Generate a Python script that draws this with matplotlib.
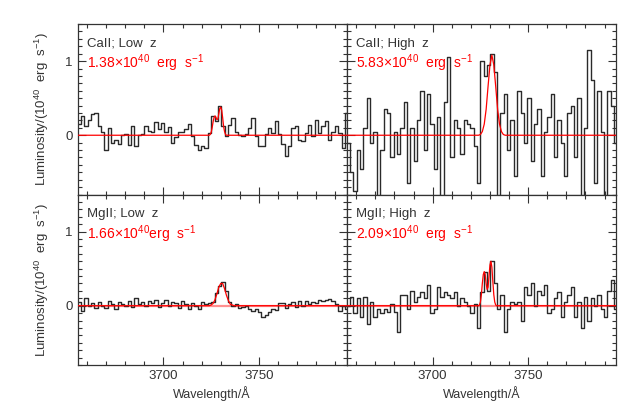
import numpy as np
import matplotlib
matplotlib.use("Agg")
import matplotlib.pyplot as plt
from matplotlib.ticker import MultipleLocator

plt.rcParams['font.family'] = ['Liberation Sans', 'DejaVu Sans']
plt.rcParams['mathtext.fontset'] = 'custom'
plt.rcParams['mathtext.rm'] = 'Liberation Sans'
plt.rcParams['mathtext.it'] = 'Liberation Sans:italic'

# binned spectra, 1.75 A bins starting at 3655 A
wl_start = 3655.0
bin_width = 1.75

caii_low = [0.15, 0.26, 0.12, 0.2, 0.28, 0.3, 0.13, 0.05, -0.2, 0.1,
            -0.1, -0.06, -0.12, 0.0, 0.01, -0.13, 0.12, -0.15, 0.0, 0.02,
            0.13, 0.06, 0.05, 0.18, 0.08, 0.17, 0.04, 0.11, -0.1, -0.02,
            0.04, 0.04, 0.08, 0.15, -0.01, -0.13, -0.2, -0.15, -0.17, 0.03,
            0.26, 0.19, 0.39, 0.12, -0.01, 0.14, 0.23, 0.05, 0.0, -0.01,
            0.01, 0.1, 0.23, -0.01, -0.15, -0.14, 0.01, 0.1, 0.03, 0.19,
            0.01, -0.12, -0.28, -0.15, 0.1, 0.13, -0.06, -0.08, 0.03, 0.14,
            -0.01, 0.21, 0.03, 0.12, 0.19, -0.06, 0.05, 0.13, 0.03, -0.17,
            0.3]

caii_high = [-0.1, -0.5, -0.75, -0.2, -0.45, 0.1, 0.5, -0.1, 0.05, -0.85,
             -0.2, 0.35, 0.3, -0.3, 0.05, -0.25, 0.1, 0.45, -0.65, 0.1,
             -0.35, 0.2, 0.6, -0.2, 0.55, 0.15, -0.45, 0.25, -0.85, 0.45,
             1.05, -0.3, 0.2, 0.1, -0.25, 0.2, 0.15, 0.1, -0.15, -0.65,
             1.0, 0.8, 0.95, 1.1, 0.85, -0.85, 0.3, 0.55, -0.2, 0.2,
             -0.55, 0.6, 0.3, -0.1, 0.5, -0.35, 0.15, 0.35, -0.55, 0.05,
             0.25, 0.55, -0.3, 0.2, -0.1, -0.55, 0.3, 0.4, -0.3, 0.5,
             -0.85, 0.1, 1.15, 0.75, -0.65, 0.6, 0.05, -0.85, 0.6, 0.4,
             -0.1]

mgii_low = [0.05, -0.07, 0.1, 0.0, 0.04, -0.03, 0.05, 0.0, -0.03, 0.06,
            0.02, -0.05, 0.05, 0.02, 0.0, 0.07, -0.02, 0.1, 0.02, 0.05,
            0.0, 0.06, 0.03, 0.08, -0.02, 0.04, 0.08, 0.0, 0.05, 0.03,
            -0.03, 0.06, 0.02, -0.04, 0.03, 0.0, -0.04, 0.05, 0.02, 0.03,
            0.05, 0.17, 0.26, 0.32, 0.2, 0.05, 0.0, 0.02, -0.03, -0.02,
            0.0, -0.05, -0.07, -0.05, -0.08, -0.15, -0.12, -0.08, -0.04, -0.06,
            0.03, 0.03, -0.03, 0.02, 0.05, -0.02, 0.06, 0.0, 0.07, 0.02,
            0.05, 0.03, 0.08, 0.06, 0.08, 0.09, 0.07, 0.02, -0.07, 0.0,
            -0.05]

mgii_high = [0.0, 0.12, -0.1, 0.1, -0.15, 0.12, -0.25, 0.05, -0.15, -0.05,
             -0.1, -0.05, -0.08, 0.02, -0.08, -0.35, 0.15, 0.15, -0.05, 0.2,
             0.05, 0.12, 0.18, 0.1, 0.28, -0.1, -0.05, 0.25, 0.12, 0.18,
             0.15, 0.1, 0.18, 0.0, 0.1, 0.05, 0.0, -0.1, 0.02, -0.3,
             0.18, 0.45, 0.2, 0.6, 0.3, -0.05, 0.15, -0.35, -0.05, 0.05,
             0.02, 0.05, -0.2, 0.25, 0.15, 0.3, 0.0, 0.2, 0.15, 0.28,
             -0.1, -0.05, 0.1, 0.18, -0.15, 0.05, 0.15, 0.25, -0.15, 0.05,
             -0.3, 0.12, -0.2, 0.1, 0.0, 0.15, -0.05, -0.15, 0.2, 0.35,
             -0.05]

# fitted line models (red)
caii_low_fit_wl = [3655, 3724.0, 3724.5, 3725.0, 3725.5, 3726.0, 3726.5, 3727.0, 3727.5,
                   3728.0, 3728.5, 3729.0, 3729.5, 3730.0, 3730.5, 3731.0, 3731.5,
                   3732.0, 3732.5, 3733.0, 3796]
caii_low_fit = [0, 0, 0.01, 0.04, 0.10, 0.18, 0.24, 0.26, 0.24, 0.21, 0.22, 0.29,
                0.36, 0.38, 0.34, 0.24, 0.12, 0.05, 0.01, 0, 0]

caii_high_fit_wl = [3655, 3724, 3725, 3726, 3727, 3728, 3729, 3730, 3731, 3732, 3733,
                    3734, 3735, 3736, 3737, 3738, 3796]
caii_high_fit = [0, 0, 0.01, 0.05, 0.15, 0.35, 0.66, 0.95, 1.08, 0.95, 0.66,
                 0.35, 0.15, 0.05, 0.01, 0, 0]

mgii_low_fit_wl = [3655, 3724, 3725, 3726, 3727, 3728, 3729, 3730, 3731, 3732, 3733,
                   3734, 3735, 3736, 3737, 3796]
mgii_low_fit = [0, 0, 0.01, 0.03, 0.08, 0.16, 0.25, 0.30, 0.30, 0.23, 0.14,
                0.07, 0.02, 0.01, 0, 0]

mgii_high_fit_wl = [3655, 3724.0, 3724.5, 3725.0, 3725.5, 3726.0, 3726.5, 3727.0, 3727.5,
                    3728.0, 3728.5, 3729.0, 3729.5, 3730.0, 3730.5, 3731.0, 3731.5,
                    3732.0, 3732.5, 3733.0, 3733.5, 3796]
mgii_high_fit = [0, 0, 0.01, 0.05, 0.15, 0.30, 0.42, 0.46, 0.42, 0.30, 0.22, 0.25,
                 0.40, 0.55, 0.60, 0.52, 0.33, 0.15, 0.05, 0.01, 0, 0]

titles = ["CaII; Low  z", "CaII; High  z", "MgII; Low  z", "MgII; High  z"]
lum_labels = [r"1.38$\times$10$^{40}$  erg  s$^{-1}$", r"5.83$\times$10$^{40}$  erg  s$^{-1}$",
              r"1.66$\times$10$^{40}$erg  s$^{-1}$", r"2.09$\times$10$^{40}$  erg  s$^{-1}$"]

spectra = [caii_low, caii_high, mgii_low, mgii_high]
fits = [(caii_low_fit_wl, caii_low_fit), (caii_high_fit_wl, caii_high_fit),
        (mgii_low_fit_wl, mgii_low_fit), (mgii_high_fit_wl, mgii_high_fit)]

fig, axes = plt.subplots(2, 2, figsize=(6.39, 4.15), dpi=100, sharex=True, sharey=True)
fig.subplots_adjust(left=0.1213, right=0.964, bottom=0.1205, top=0.942, hspace=0, wspace=0)

fc = '#333333'
for k, ax in enumerate(axes.flat):
    vals = np.array(spectra[k])
    wl = wl_start + bin_width * (np.arange(len(vals)) + 0.5)
    if k >= 2:
        ax.axhline(0, color='#ff9090', lw=1.6, zorder=1)
    ax.step(wl, vals, where='mid', color='#2a2a2a', lw=1.0, zorder=2)
    fw, fv = fits[k]
    ax.plot(fw, fv, color='red', lw=0.9, zorder=3)

    ax.set_xlim(3655, 3796)
    ax.set_ylim(-0.8, 1.5)
    ax.xaxis.set_major_locator(MultipleLocator(50))
    ax.xaxis.set_minor_locator(MultipleLocator(10))
    ax.yaxis.set_major_locator(MultipleLocator(1))
    ax.yaxis.set_minor_locator(MultipleLocator(0.1))
    ax.tick_params(which='both', direction='in', top=True, right=True, colors=fc,
                   labelsize=9.5, width=0.8)
    ax.tick_params(which='major', length=6)
    ax.tick_params(which='minor', length=3)
    for s in ax.spines.values():
        s.set_color(fc)
        s.set_linewidth(0.9)

    ax.text(0.035, 0.885, titles[k], transform=ax.transAxes, fontsize=9.5, color=fc,
            va='center', ha='left')
    ax.text(0.035, 0.77, lum_labels[k], transform=ax.transAxes, fontsize=10,
            color='red', va='center', ha='left')

    if k % 2 == 0:
        ax.set_ylabel(r"Luminosity/(10$^{40}$  erg  s$^{-1}$)", fontsize=9.5, color=fc,
                      labelpad=10)
    if k >= 2:
        ax.set_xlabel("Wavelength/Å", fontsize=9, color=fc, labelpad=3)

for ax in axes[:, 1]:
    ax.tick_params(labelleft=False)

fig.savefig("out.png", dpi=100)
